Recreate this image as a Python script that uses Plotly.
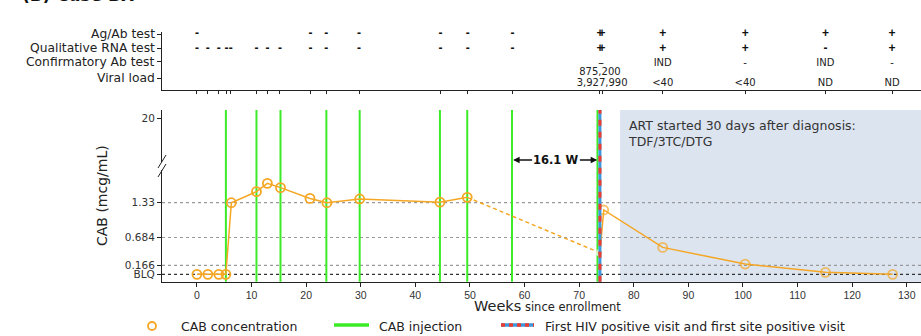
import plotly.graph_objects as go

W, H = 921, 336

# ---------------- data ----------------
conc_weeks = [0, 2, 4, 5.3, 6.3, 10.9, 12.9, 15.3, 20.7, 23.8, 29.8, 44.5, 49.5,
              73.8, 74.5, 85.3, 100.4, 115.1, 127.4]
conc_values = [0, 0, 0, 0, 1.33, 1.535, 1.69, 1.61, 1.41, 1.33, 1.40, 1.34, 1.43,
               0.40, 1.195, 0.50, 0.19, 0.037, 0.0]
n_pre = 13  # points before the first positive visit

injection_weeks = [5.3, 10.9, 15.3, 23.7, 29.8, 44.5, 49.5, 57.7, 73.35]
first_positive_week = 73.8
art_start_week = 77.5
gap_label = "16.1 W"

ref_levels = [1.33, 0.684, 0.166]
ytick_text = ["BLQ", "0.166", "0.684", "1.33", "20"]
xtick_vals = list(range(0, 131, 10))

visit_weeks = [0, 2, 4, 5.4, 6.2, 10.9, 12.9, 15.2, 20.8, 23.7, 29.7, 44.6, 49.6, 57.8,
               73.8, 74.2, 85.3, 100.4, 115.1, 127.3]
agab = ["-", "", "", "", "", "", "", "", "-", "-", "-", "-", "-", "-",
        "+", "+", "+", "+", "+", "+"]
rna = ["-", "-", "-", "-", "-", "-", "-", "-", "-", "-", "-", "-", "-", "-",
       "+", "+", "+", "+", "-", "+"]
confirm = ["", "", "", "", "", "", "", "", "", "", "", "", "", "",
           "-", "-", "IND", "-", "IND", "-"]
viral_load = ["", "", "", "", "", "", "", "", "", "", "", "", "", "",
              "875,200", "3,927,990", "<40", "<40", "ND", "ND"]
row_labels = ["Ag/Ab test", "Qualitative RNA test", "Confirmatory Ab test", "Viral load"]

# ---------------- layout helpers ----------------
def fx(px):
    return px / W

def fy(py):
    return 1 - py / H

SANS = "DejaVu Sans, Liberation Sans, sans-serif"
ARIAL = "Liberation Sans, Arial, sans-serif"
NARROW = "Liberation Sans Narrow, Arial Narrow, Liberation Sans, sans-serif"
ORANGE = "rgb(245,166,35)"
GREEN = "rgb(60,235,40)"
RED = "rgb(235,60,50)"
BLUE = "rgb(60,150,220)"
SHADE = "rgb(220,228,240)"

X_RANGE = [-6.4, 132.6]
Y_RANGE = [-0.137, 3.052]
Y20_POS = 2.898
GAP_Y = 2.123
TOP_RANGE = [0, 58]
row_pos = [56, 41.7, 28.3, 11.7]          # tick positions of the rows (top panel px units)
row_text_pos = [55.8, 41.3, 26.8, 7.0]    # text centres of the rows
vl_pair_pos = [17.3, 6.7]                 # the two stacked viral-load values

fig = go.Figure()

# CAB concentration: solid before, dashed gap, solid after
fig.add_trace(go.Scatter(
    x=conc_weeks[:n_pre], y=conc_values[:n_pre], mode="lines+markers",
    line=dict(color=ORANGE, width=1.5),
    marker=dict(symbol="circle-open", size=9, color=ORANGE, line=dict(width=1.8)),
    xaxis="x", yaxis="y", showlegend=False, cliponaxis=False))
fig.add_trace(go.Scatter(
    x=conc_weeks[n_pre - 1:n_pre + 1], y=conc_values[n_pre - 1:n_pre + 1], mode="lines",
    line=dict(color=ORANGE, width=1.5, dash="4px,3px"),
    xaxis="x", yaxis="y", showlegend=False))
fig.add_trace(go.Scatter(
    x=conc_weeks[n_pre:], y=conc_values[n_pre:], mode="lines+markers",
    line=dict(color=ORANGE, width=1.5),
    marker=dict(symbol=["circle"] + ["circle-open"] * (len(conc_weeks) - n_pre - 1),
                size=[6] + [9] * (len(conc_weeks) - n_pre - 1),
                color=ORANGE, line=dict(width=1.8)),
    xaxis="x", yaxis="y", showlegend=False, cliponaxis=False))

# top panel rows
def row_trace(vals, ypos, size, bold, family, color="#111"):
    xs = [w for w, v in zip(visit_weeks, vals) if v]
    ts = [v for v in vals if v]
    ys = [y for y, v in zip(ypos, vals) if v] if isinstance(ypos, list) else [ypos] * len(xs)
    if bold:
        ts = ["<b>%s</b>" % t for t in ts]
    return go.Scatter(x=xs, y=ys, mode="text", text=ts, textposition="middle center",
                      textfont=dict(family=family, size=size, color=color),
                      xaxis="x2", yaxis="y2", showlegend=False, cliponaxis=False)

fig.add_trace(row_trace(agab, row_text_pos[0], 12, True, ARIAL))
fig.add_trace(row_trace(rna, row_text_pos[1], 12, True, ARIAL))
fig.add_trace(row_trace(confirm, row_text_pos[2], 10, False, SANS, "#222"))
vl_y = [row_text_pos[3]] * len(viral_load)
vl_y[14], vl_y[15] = vl_pair_pos
fig.add_trace(row_trace(viral_load, vl_y, 10, False, SANS, "#222"))

shapes = []
# ART shading
shapes.append(dict(type="rect", xref="x", yref="y domain", x0=art_start_week, x1=X_RANGE[1],
                   y0=0, y1=1, fillcolor=SHADE, line=dict(width=0), layer="below"))
# reference dotted lines
for lv in ref_levels:
    shapes.append(dict(type="line", xref="x domain", yref="y", x0=0, x1=1, y0=lv, y1=lv,
                       line=dict(color="#999", width=1.2, dash="dot"), layer="below"))
shapes.append(dict(type="line", xref="x domain", yref="y", x0=0, x1=1, y0=0, y1=0,
                   line=dict(color="#333", width=1.2, dash="dot"), layer="below"))
# CAB injections
for w in injection_weeks:
    shapes.append(dict(type="line", xref="x", yref="y domain", x0=w, x1=w, y0=0, y1=1,
                       line=dict(color=GREEN, width=2), layer="below"))
# first positive visit
shapes.append(dict(type="line", xref="x", yref="y domain", x0=first_positive_week,
                   x1=first_positive_week, y0=0, y1=1, line=dict(color=BLUE, width=3)))
shapes.append(dict(type="line", xref="x", yref="y domain", x0=first_positive_week,
                   x1=first_positive_week, y0=0, y1=1,
                   line=dict(color=RED, width=3, dash="6px,6px")))
# axis break
shapes.append(dict(type="rect", xref="paper", yref="paper", x0=fx(161), x1=fx(164.5),
                   y0=fy(170), y1=fy(162), fillcolor="white", line=dict(width=0)))
shapes.append(dict(type="line", xref="paper", yref="paper", x0=fx(158), y0=fy(168),
                   x1=fx(166), y1=fy(155), line=dict(color="#222", width=1)))
shapes.append(dict(type="line", xref="paper", yref="paper", x0=fx(158), y0=fy(177),
                   x1=fx(166), y1=fy(164), line=dict(color="#222", width=1)))

# legend (manual)
LEG_Y = 326
shapes.append(dict(type="circle", xref="paper", yref="paper", x0=fx(148), x1=fx(156),
                   y0=fy(330), y1=fy(322), line=dict(color=ORANGE, width=1.8)))
shapes.append(dict(type="line", xref="paper", yref="paper", x0=fx(334), x1=fx(369),
                   y0=fy(LEG_Y - 1), y1=fy(LEG_Y - 1), line=dict(color=GREEN, width=3.5)))
shapes.append(dict(type="line", xref="paper", yref="paper", x0=fx(501), x1=fx(534),
                   y0=fy(LEG_Y - 1), y1=fy(LEG_Y - 1), line=dict(color=BLUE, width=3.5)))
shapes.append(dict(type="line", xref="paper", yref="paper", x0=fx(501), x1=fx(534),
                   y0=fy(LEG_Y - 1), y1=fy(LEG_Y - 1),
                   line=dict(color=RED, width=3.5, dash="4px,4px")))

annotations = []
def ann(text, x, y, size, xanchor="left", yanchor="middle", color="#222", angle=0, family=SANS):
    annotations.append(dict(text=text, x=x, y=y, xref="paper", yref="paper",
                            xanchor=xanchor, yanchor=yanchor, showarrow=False,
                            textangle=angle, font=dict(family=family, size=size, color=color)))

ann("<b>(B) Case BX</b>", fx(20), fy(7), 17, yanchor="bottom", color="#111")
ann("CAB concentration", fx(179), fy(LEG_Y), 12.5)
ann("CAB injection", fx(377), fy(LEG_Y), 12.5)
ann("First HIV positive visit and first site positive visit", fx(543), fy(LEG_Y), 12.5)
ann("<span style='font-size:14.5px'>Weeks</span> since enrollment", fx(547), fy(306), 11.5,
    xanchor="center")
ann("CAB (mcg/mL)", fx(102), fy(196), 14, xanchor="center", angle=-90)

# row labels of the top panel, placed at the axis tick positions
for lab, pos in zip(row_labels, row_pos):
    annotations.append(dict(text=lab, x=fx(157), y=pos, xref="paper", yref="y2",
                            xanchor="right", yanchor="middle", showarrow=False,
                            font=dict(family=SANS, size=12.3, color="#222")))

# ART annotation
annotations.append(dict(text="ART started 30 days after diagnosis:<br>TDF/3TC/DTG",
                        x=art_start_week + 1.1, y=fy(116), xref="x", yref="paper",
                        xanchor="left", yanchor="top", align="left", showarrow=False,
                        font=dict(family=SANS, size=12.5, color="#333")))
# gap arrows
mid = (injection_weeks[-2] + first_positive_week) / 2
annotations.append(dict(text="<b>%s</b>" % gap_label, x=mid, y=GAP_Y, xref="x", yref="y",
                        showarrow=False, font=dict(family=SANS, size=11.5, color="#111")))
annotations.append(dict(text="", x=injection_weeks[-2] + 0.2, y=GAP_Y, ax=mid - 4.1, ay=GAP_Y,
                        xref="x", yref="y", axref="x", ayref="y", showarrow=True,
                        arrowhead=2, arrowsize=1, arrowwidth=1.3, arrowcolor="#111"))
annotations.append(dict(text="", x=first_positive_week - 0.5, y=GAP_Y, ax=mid + 4.1, ay=GAP_Y,
                        xref="x", yref="y", axref="x", ayref="y", showarrow=True,
                        arrowhead=2, arrowsize=1, arrowwidth=1.3, arrowcolor="#111"))

axis_common = dict(showline=True, linecolor="#222", linewidth=1, ticks="outside",
                   tickcolor="#222", ticklen=4, showgrid=False, zeroline=False)

fig.update_layout(
    width=W, height=H, margin=dict(l=0, r=0, t=0, b=0),
    paper_bgcolor="white", plot_bgcolor="rgba(0,0,0,0)",
    showlegend=False,
    xaxis=dict(domain=[fx(162), 1], range=X_RANGE, anchor="y", tickvals=xtick_vals,
               tickfont=dict(family=NARROW, size=10.5, color="#333"), **axis_common),
    yaxis=dict(domain=[fy(281.7), fy(110)], range=Y_RANGE, anchor="x",
               tickvals=[0, ref_levels[2], ref_levels[1], ref_levels[0], Y20_POS],
               ticktext=ytick_text, tickfont=dict(family=SANS, size=10.5, color="#333"),
               **axis_common),
    xaxis2=dict(domain=[fx(162), 1], range=X_RANGE, anchor="y2", matches="x",
                tickvals=visit_weeks, showticklabels=False,
                **{k: v for k, v in axis_common.items() if k != "ticklen"}, ticklen=3),
    yaxis2=dict(domain=[fy(90), fy(90 - TOP_RANGE[1])], range=TOP_RANGE, anchor="x2",
                tickvals=row_pos, showticklabels=False, **axis_common),
    shapes=shapes, annotations=annotations,
)

fig.write_html("out.html", config={"displayModeBar": False},
               post_script="document.body.style.margin='0px';")
